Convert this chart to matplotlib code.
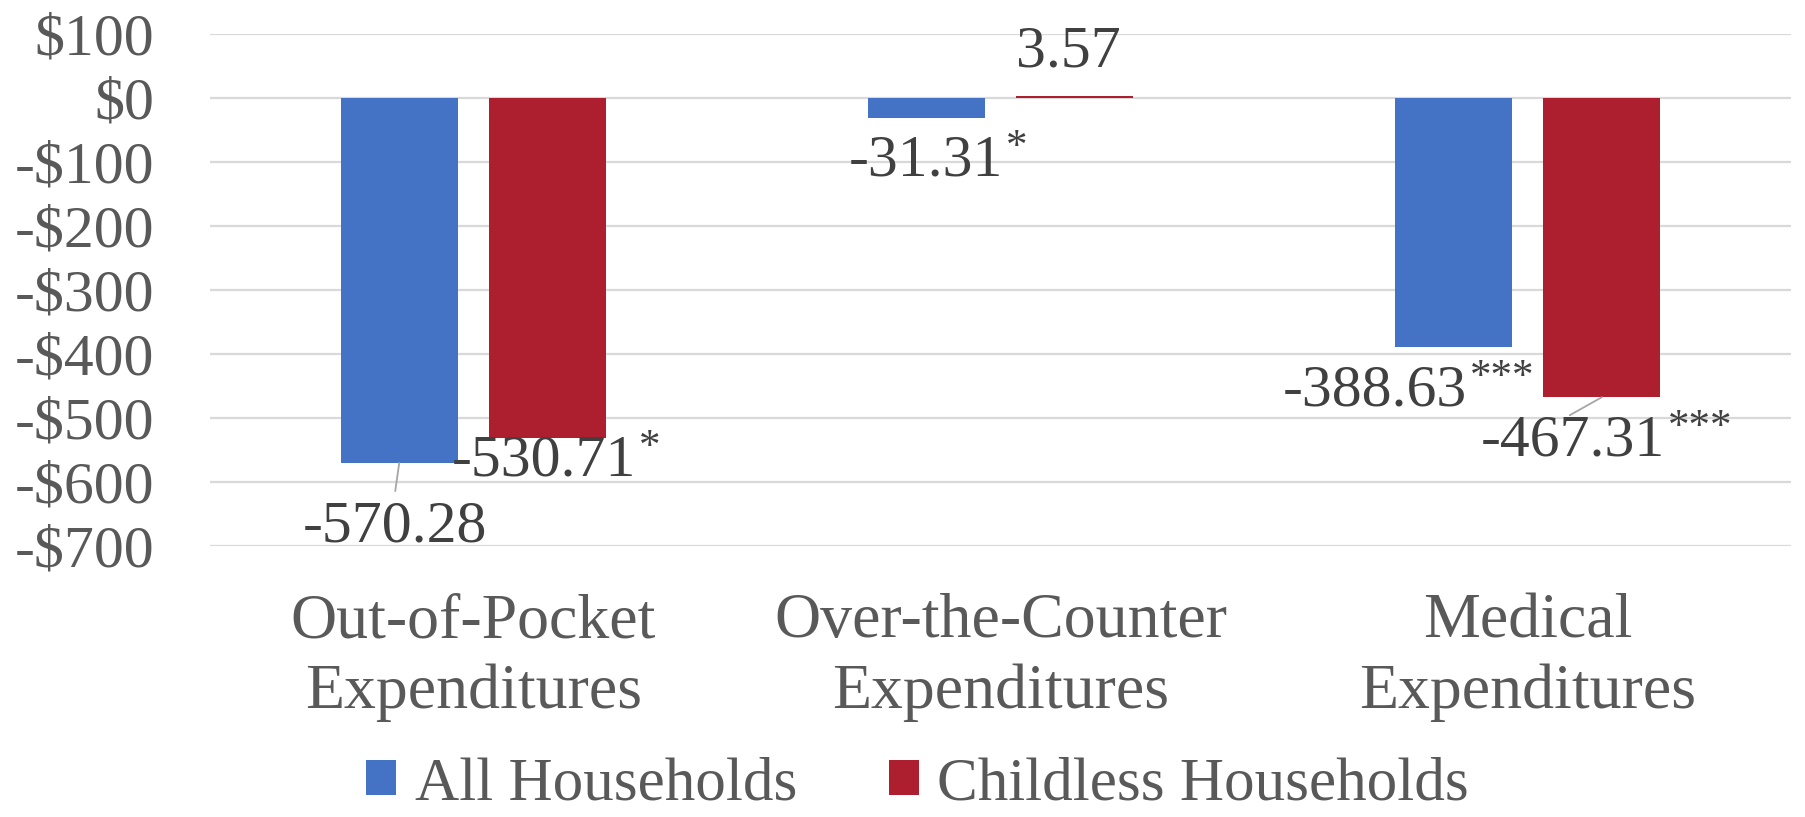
import matplotlib.pyplot as plt
import numpy as np
from matplotlib.text import Text

categories = ["Out-of-Pocket\nExpenditures", "Over-the-Counter\nExpenditures", "Medical\nExpenditures"]
series_names = ["All Households", "Childless Households"]
all_households = [-570.28, -31.31, -388.63]
childless_households = [-530.71, 3.57, -467.31]
all_stars = ["", "*", "***"]
childless_stars = ["*", "", "***"]
yticks = [100, 0, -100, -200, -300, -400, -500, -600, -700]

BLUE = "#4472C4"
RED = "#AD1E2E"
TEXT = "#595959"
GRID = "#d9d9d9"

plt.rcParams["font.family"] = ["Liberation Serif", "DejaVu Serif"]

fig = plt.figure(figsize=(18.06, 8.17), dpi=100)
ax = fig.add_axes([0.1163, 0.3317, 0.8754, 0.6261])

x = np.arange(len(categories))
width = 0.222
offset = 0.141
bars_all = ax.bar(x - offset, all_households, width, color=BLUE, label=series_names[0], zorder=3)
bars_child = ax.bar(x + offset, childless_households, width, color=RED, label=series_names[1], zorder=3)

ax.set_xlim(-0.5, 2.5)
ax.set_ylim(-700, 100)
ax.set_yticks(yticks)
ax.set_yticklabels([f"${v}" if v >= 0 else f"-${-v}" for v in yticks])
ax.set_xticks(x)
ax.set_xticklabels(categories, linespacing=1.28)
ax.tick_params(axis="y", length=0, pad=40, labelsize=43, labelcolor=TEXT)
ax.tick_params(axis="x", length=0, pad=34, labelsize=46, labelcolor=TEXT)
ax.grid(axis="y", color=GRID, linewidth=1.6, zorder=0)
for s in ax.spines.values():
    s.set_visible(False)

# (dx, dy) of the number from the bar end, in pixels; optional leader end
label_pos = {
    (0, 0): (-4, -64, (-4, -28)), (0, 1): (-4, -24, None),
    (1, 0): (0, -43, None), (1, 1): (-6, 44, None),
    (2, 0): (-78, -45, None), (2, 1): (-29, -44, (-32, -18)),
}


def text_box(t):
    return lambda renderer: Text.get_window_extent(t, renderer)


def add_label(i, s, xc, val, stars):
    dx, dy, leader = label_pos[(i, s)]
    if leader:
        ax.annotate("", xy=(xc, val), xytext=leader, textcoords="offset pixels",
                    arrowprops=dict(arrowstyle="-", color="#a6a6a6", lw=1.3,
                                    shrinkA=0, shrinkB=0), zorder=4)
    t = ax.annotate(f"{val:.2f}", xy=(xc, val), xytext=(dx, dy),
                    textcoords="offset pixels", ha="center", va="center",
                    fontsize=43, color="#404040", zorder=5)
    if stars:
        ax.annotate(stars, xy=(1, 1), xycoords=text_box(t), xytext=(3, 6),
                    textcoords="offset pixels", ha="left", va="top",
                    fontsize=31, color="#404040", zorder=5)


for i in range(len(categories)):
    add_label(i, 0, x[i] - offset, all_households[i], all_stars[i])
    add_label(i, 1, x[i] + offset, childless_households[i], childless_stars[i])

fig.legend(handles=[bars_all, bars_child], loc="center", bbox_to_anchor=(0.508, 0.04),
           ncol=2, frameon=False, fontsize=44, labelcolor=TEXT,
           handlelength=0.5, handleheight=0.5, handletextpad=0.3,
           columnspacing=1.5)

fig.savefig("out.png", dpi=100)
plt.close(fig)
